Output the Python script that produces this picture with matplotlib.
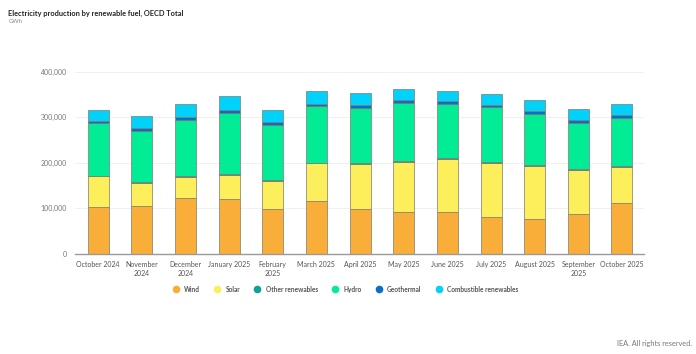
import numpy as np
import matplotlib.pyplot as plt
from matplotlib.lines import Line2D

plt.rcParams['font.family'] = ['Lato', 'DejaVu Sans']

months = ["October 2024", "November\n2024", "December\n2024", "January 2025",
          "February\n2025", "March 2025", "April 2025", "May 2025", "June 2025",
          "July 2025", "August 2025", "September\n2025", "October 2025"]

# GWh
wind = [102600, 106000, 123000, 121000, 99000, 115800, 97400, 90800, 90800, 79900, 76000, 86400, 112000]
solar = [67400, 50000, 46000, 52600, 60700, 83200, 100400, 111200, 117200, 120100, 117400, 97600, 79000]
other = [1500, 1500, 1500, 1500, 1500, 1500, 1500, 1500, 1500, 1500, 1500, 1500, 1500]
hydro = [115500, 112500, 123500, 134500, 121800, 123500, 121300, 128100, 119200, 120500, 112100, 102500, 106100]
geothermal = [5600, 6000, 5600, 5400, 6000, 5700, 6100, 6100, 6100, 5500, 6500, 5800, 5400]
combustible = [24200, 26600, 28400, 30800, 26000, 28300, 26300, 24300, 22700, 24500, 25000, 24200, 26000]

series = [("Wind", wind, "#F9AE3A"),
          ("Solar", solar, "#FDEE5C"),
          ("Other renewables", other, "#0FA195"),
          ("Hydro", hydro, "#02EC96"),
          ("Geothermal", geothermal, "#0A6FCB"),
          ("Combustible renewables", combustible, "#00D2F9")]

fig = plt.figure(figsize=(6.96, 3.54), dpi=100)
ax = fig.add_axes([0.108, 0.283, 0.817, 0.5145])

x = np.arange(len(months))
bottom = np.zeros(len(months))
for name, vals, color in series:
    ax.bar(x, vals, 0.48, bottom=bottom, color=color, edgecolor="#7d7b6c",
           linewidth=0.5, zorder=3)
    bottom += np.array(vals)

ax.set_xlim(-0.527, 12.5)
ax.set_ylim(0, 400000)
ax.set_yticks([0, 100000, 200000, 300000, 400000])
ax.set_yticklabels(["0", "100,000", "200,000", "300,000", "400,000"])
ax.set_xticks(x)
ax.set_xticklabels(months, fontsize=5, color="#555555", linespacing=1.3)
ax.tick_params(axis="y", labelsize=5, labelcolor="#777777", length=0, pad=6)
ax.tick_params(axis="x", length=0, pad=5)
ax.grid(axis="y", color="#eeeeee", linewidth=0.6, zorder=0)
for s in ["top", "right", "left"]:
    ax.spines[s].set_visible(False)
ax.spines["bottom"].set_color("#9a9a9a")
ax.spines["bottom"].set_linewidth(1.0)
ax.spines["bottom"].set_zorder(4)

fig.text(0.012, 0.962, "Electricity production by renewable fuel, OECD Total",
         fontsize=5.3, fontweight="bold", color="#222222", va="center")
fig.text(0.012, 0.938, "GWh", fontsize=4.3, color="#888888", va="center")
fig.text(0.995, 0.031, "IEA. All rights reserved.", fontsize=5.3, color="#777777",
         ha="right", va="center")

handles = [Line2D([], [], marker="o", linestyle="", markersize=4.5,
                  markerfacecolor=c, markeredgecolor=c) for _, _, c in series]
fig.legend(handles, [n for n, _, _ in series], loc="center",
           bbox_to_anchor=(0.494, 0.183), ncol=6, frameon=False,
           prop={"size": 4.7, "weight": "bold"}, labelcolor="#555555",
           handletextpad=0.3, columnspacing=1.6)

fig.savefig("out.png", dpi=100)
